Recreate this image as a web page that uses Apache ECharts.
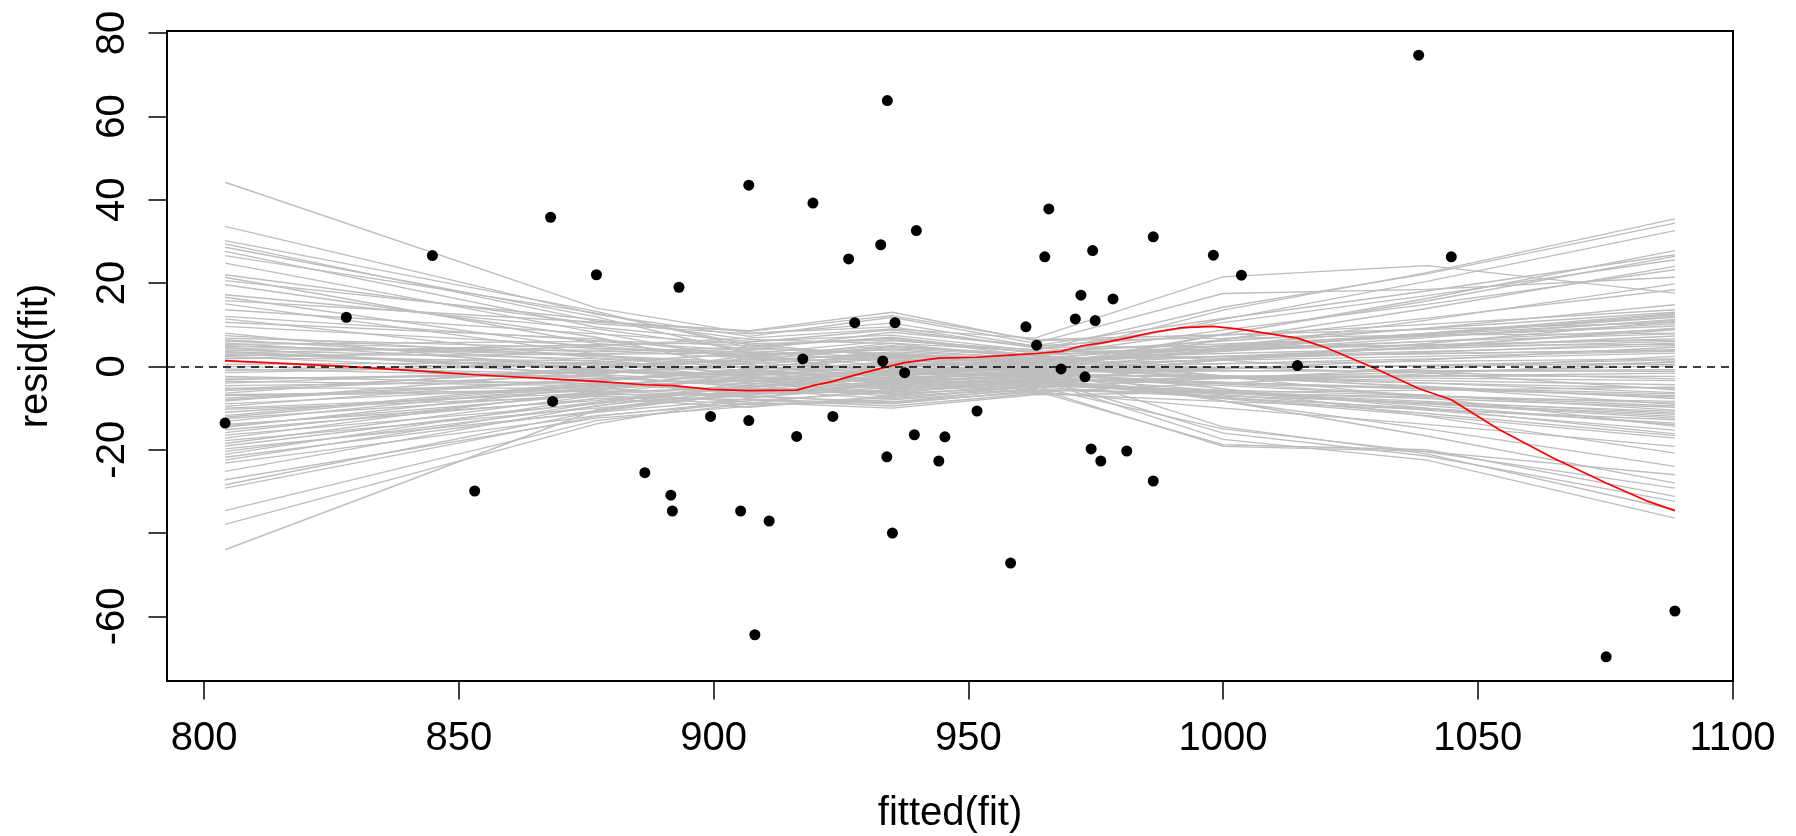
<!DOCTYPE html>
<html><head><meta charset="utf-8">
<script src="https://cdn.jsdelivr.net/npm/echarts@6/dist/echarts.min.js"></script>
<style>html,body{margin:0;padding:0;background:#fff}#c{width:1796px;height:836px}</style>
</head><body><div id="c"></div>
<script>
// ---- tick labels ----
const xTicks = [800, 850, 900, 950, 1000, 1050, 1100];
const yTicks = [-60, -40, -20, 0, 20, 40, 60, 80];
const yTickLabels = [-60, -20, 0, 20, 40, 60, 80];

// ---- observed residuals vs fitted ----
const fittedX = [804.1, 827.9, 844.8, 853.1, 868.0, 868.4, 877.0, 886.5, 891.6, 891.9, 893.2, 899.4, 905.3, 906.9, 906.9, 908.1, 910.9, 916.3, 917.5, 919.5, 923.4, 926.5, 927.7, 932.8, 933.2, 934.0, 934.1, 935.1, 935.6, 937.5, 939.4, 939.8, 944.2, 945.4, 951.7, 958.3, 961.3, 963.4, 965.0, 965.8, 968.2, 971.0, 972.1, 972.9, 974.1, 974.4, 974.9, 976.0, 978.4, 981.1, 986.3, 986.3, 998.1, 1003.6, 1014.6, 1038.4, 1044.8, 1075.2, 1088.7];
const residY = [-13.6, 11.8, 26.6, -29.9, 35.8, -8.4, 22.0, -25.5, -30.9, -34.7, 19.0, -12.0, -34.7, 43.5, -13.0, -64.4, -37.1, -16.8, 1.8, 39.2, -12.0, 25.8, 10.5, 29.2, 1.3, -21.7, 63.8, -40.0, 10.5, -1.5, -16.4, 32.6, -22.7, -16.9, -10.7, -47.2, 9.5, 5.1, 26.3, 37.8, -0.6, 11.4, 17.1, -2.5, -19.8, 27.8, 11.0, -22.7, 16.2, -20.3, 31.1, -27.5, 26.7, 21.9, 0.2, 74.7, 26.3, -69.7, -58.7];

// ---- red smooth of the observed residuals ----
const lowessX = [804.1, 827.9, 844.8, 853.1, 868.2, 877.0, 886.5, 892.0, 899.4, 906.9, 916.3, 919.5, 923.4, 927.7, 934.0, 937.5, 944.2, 951.7, 958.3, 963.4, 968.2, 972.1, 976.0, 981.1, 986.3, 992.0, 998.1, 1003.6, 1014.6, 1020.0, 1029.0, 1038.4, 1044.8, 1054.0, 1064.8, 1075.2, 1083.0, 1088.7];
const lowessY = [1.4, 0.0, -1.3, -2.0, -3.0, -3.6, -4.4, -4.6, -5.5, -5.8, -5.7, -4.6, -3.6, -2.1, -0.1, 0.9, 2.0, 2.2, 2.7, 3.1, 3.6, 4.9, 5.6, 6.8, 8.2, 9.3, 9.6, 8.9, 6.8, 4.6, 0.0, -5.3, -8.0, -15.0, -22.0, -28.0, -32.2, -34.6];

// ---- gray simulated smooths, values at these fitted positions ----
const simKnotsX = [804.1, 877, 907, 935, 963, 1000, 1040, 1088.7];
const simCurves = [
  [44.2, 14.0, 8.0, 9.5, 4.5, 1.5, -1.6, -5.6],
  [33.6, 12.5, 7.2, 11.8, 5.6, 17.5, 18.5, 21.4],
  [30.2, 13.2, 4.5, 3.0, 1.2, -5.4, -12.0, -20.8],
  [29.4, 10.8, 8.6, 13.0, 6.2, 6.8, 7.5, 8.0],
  [28.6, 11.9, 3.1, -2.0, -1.5, -4.2, -6.9, -10.5],
  [27.6, 9.4, 6.0, 7.5, 3.8, 14.2, 22.2, 34.4],
  [26.6, 12.8, 5.2, 2.5, 0.6, 1.5, 2.4, 3.6],
  [24.8, 8.1, 1.5, 4.8, 2.8, -2.4, -7.5, -14.4],
  [22.0, 10.2, 7.8, 10.4, 4.9, 7.5, 10.1, 13.6],
  [21.4, 5.5, 2.2, -1.2, -2.6, -16.0, -21.5, -32.4],
  [20.6, 11.2, 6.5, 5.5, 2.0, 4.9, 7.9, 11.8],
  [19.6, 7.0, -0.8, -3.5, -2.2, -2.3, -2.3, -2.4],
  [17.2, 9.0, 4.0, 8.2, 5.0, 11.5, 18.1, 26.8],
  [16.6, 4.2, 3.5, 1.0, -0.5, -2.7, -4.8, -7.7],
  [15.8, 10.6, 8.4, 12.2, 6.4, 7.6, 8.9, 10.5],
  [15.0, 3.0, -2.5, -4.0, -3.4, -7.4, -11.3, -16.6],
  [13.6, 7.8, 5.4, 6.4, 3.4, 4.2, 5.2, 6.3],
  [12.0, 6.2, 5.0, 6.8, 2.5, 8.7, 14.9, 23.2],
  [11.4, 2.0, 0.4, -2.8, -1.0, -0.4, 0.1, 0.9],
  [10.6, 6.6, 2.6, 0.2, -0.8, -1.0, -1.1, -1.2],
  [9.6, 5.0, 6.8, 9.0, 6.8, 21.5, 24.2, 17.6],
  [8.0, -1.0, -3.2, -5.5, -4.0, -6.4, -8.8, -12.0],
  [7.4, 2.4, 0.6, 2.6, 1.2, 3.6, 6.0, 9.0],
  [6.8, 4.4, 2.8, 4.0, 1.8, 3.1, 4.3, 6.0],
  [6.4, 1.2, -1.8, 0.5, 0.2, -8.3, -16.7, -28.0],
  [6.0, 3.5, 4.6, 7.0, 3.2, 6.1, 9.1, 13.0],
  [5.6, 0.2, -4.0, -6.5, -5.0, -2.8, -0.6, 2.4],
  [5.3, 6.0, 3.8, 2.0, 0.8, -2.2, -5.1, -9.1],
  [5.0, 2.6, 1.0, 3.5, 2.2, 11.3, 20.4, 32.6],
  [4.8, 3.0, 4.2, 3.0, 0.8, -0.3, -1.5, -3.0],
  [4.6, -2.2, -5.0, -3.0, -1.8, -2.6, -3.4, -4.4],
  [4.2, 3.9, 2.0, 5.6, 3.6, 5.4, 7.3, 9.7],
  [3.9, 1.8, -0.2, -1.5, -0.8, -5.4, -10.0, -16.2],
  [3.6, -0.5, 1.6, 2.8, 1.4, 6.5, 11.6, 18.4],
  [3.4, -0.8, -2.2, 0.2, 0.5, 4.0, 7.8, 12.0],
  [3.2, 5.2, 5.8, 8.8, 4.6, 4.8, 5.0, 5.3],
  [2.9, 0.6, -2.6, -4.8, -3.0, -4.2, -5.4, -7.0],
  [2.6, 2.9, 3.3, 1.5, 0.4, 3.7, 6.9, 11.3],
  [2.4, -1.6, 0.8, -0.6, -0.3, -14.5, -21.0, -34.4],
  [2.0, 1.4, -1.0, -3.2, -2.6, -4.6, -7.0, -9.5],
  [1.8, 4.8, 2.4, 4.5, 2.9, 4.0, 5.1, 6.6],
  [1.2, -3.0, -1.2, -2.2, -1.2, -1.1, -1.0, -0.8],
  [0.5, 1.0, 3.0, 6.2, 4.0, 10.5, 17.0, 25.6],
  [0.0, -1.8, 0.6, 2.4, 1.3, 2.4, 3.6, 5.0],
  [-0.6, -2.5, -4.6, -7.2, -5.5, -7.1, -8.7, -10.8],
  [-1.0, 0.8, -1.6, -4.0, -3.4, -6.2, -9.0, -12.4],
  [-1.5, 0.4, 1.2, 3.2, 1.6, 2.3, 3.0, 4.0],
  [-2.4, -4.2, -6.0, -3.8, -2.4, -5.9, -9.4, -14.0],
  [-2.8, -2.2, 2.6, 5.0, 2.8, 4.2, 6.0, 7.8],
  [-3.2, -1.4, 0.0, 1.8, 0.9, 5.1, 9.2, 14.8],
  [-3.6, -4.6, -3.4, -1.6, -0.6, -0.2, 0.2, 0.5],
  [-4.0, -0.8, -2.0, -0.4, -0.6, -2.3, -4.0, -6.3],
  [-4.6, -3.6, -1.0, 2.2, 1.9, 13.5, 22.5, 35.4],
  [-5.2, -5.2, -7.2, -8.5, -6.2, -4.0, -1.8, 1.2],
  [-5.5, -1.0, -2.4, -3.6, -2.2, -3.8, -5.4, -7.3],
  [-5.8, -2.0, -3.6, -1.8, -1.5, -8.3, -15.0, -24.0],
  [-6.4, -0.2, 1.8, 4.2, 2.6, 4.9, 7.2, 10.2],
  [-6.8, -5.6, -0.4, 2.6, 1.6, 2.4, 3.1, 3.8],
  [-7.0, -6.0, -5.4, -6.0, -4.4, -5.7, -7.0, -8.8],
  [-7.6, -3.2, -0.6, 0.8, 0.0, 1.7, 3.4, 5.6],
  [-8.0, -3.4, -1.2, 0.4, 1.2, 4.4, 7.6, 11.0],
  [-8.3, -1.2, -2.8, -5.2, -3.6, -7.7, -11.8, -17.2],
  [-9.0, -4.8, -1.5, 1.2, 0.6, 4.1, 7.7, 12.4],
  [-9.6, -2.8, -4.2, -2.6, -2.0, -2.4, -2.8, -3.4],
  [-10.0, -6.4, -4.8, -3.0, -1.6, -2.8, -4.0, -5.2],
  [-10.3, -7.2, -8.0, -9.5, -6.5, -8.4, -10.3, -12.8],
  [-11.0, -5.6, -3.0, -0.8, -0.9, 7.7, 16.3, 27.8],
  [-11.8, -3.8, -6.5, -4.4, -2.8, -3.9, -5.1, -6.6],
  [-12.2, -4.2, -3.0, -1.2, -0.2, 0.6, 1.2, 1.8],
  [-12.5, -6.6, -2.2, -1.0, -1.1, 1.9, 4.8, 8.8],
  [-13.2, -4.4, -5.6, -7.8, -4.8, -15.0, -20.5, -29.2],
  [-13.9, -8.2, -4.8, -2.0, -0.4, 0.7, 1.8, 3.2],
  [-14.2, -6.8, -6.6, -6.0, -4.0, -6.4, -9.0, -11.5],
  [-14.6, -5.0, -3.4, -6.8, -4.6, -6.2, -7.7, -9.8],
  [-15.2, -7.8, -6.2, -3.4, -1.2, 6.4, 13.9, 24.0],
  [-15.9, -6.2, -8.6, -10.0, -6.8, -6.3, -5.7, -5.0],
  [-16.5, -9.0, -3.8, -1.4, 0.3, 2.4, 4.5, 7.3],
  [-17.2, -5.8, -7.4, -5.0, -3.2, -6.8, -10.5, -15.3],
  [-17.8, -10.0, -6.8, -4.6, -2.4, 1.6, 5.5, 10.8],
  [-18.5, -7.0, -9.2, -8.0, -5.6, -6.4, -7.3, -8.4],
  [-19.1, -8.6, -5.0, -3.0, -1.6, -0.6, 0.3, 1.6],
  [-19.8, -11.0, -7.8, -9.0, -5.8, -18.8, -20.0, -31.2],
  [-20.4, -9.6, -4.4, -0.2, 1.0, 4.5, 8.0, 12.7],
  [-21.1, -7.6, -9.8, -7.0, -4.2, -6.3, -8.4, -11.2],
  [-21.8, -10.6, -6.0, -5.8, -2.8, -0.6, 1.6, 4.6],
  [-22.5, -8.8, -7.0, -8.8, -6.0, -10.0, -13.9, -19.2],
  [-23.2, -11.8, -8.8, -5.4, -3.8, -2.6, -1.4, 0.2],
  [-25.2, -9.4, -5.8, -2.4, -0.2, 7.8, 15.7, 26.4],
  [-27.2, -12.4, -9.6, -7.4, -4.9, -7.5, -10.1, -13.6],
  [-28.4, -10.8, -6.4, -4.2, -2.0, 4.5, 11.1, 19.8],
  [-29.2, -12.0, -8.2, -6.2, -3.4, -2.9, -2.3, -1.6],
  [-34.6, -13.0, -9.0, -8.6, -5.2, -19.2, -20.4, -26.0],
  [-37.9, -13.8, -7.6, -3.8, -1.9, 1.5, 4.8, 9.2],
  [-44.0, -10.4, -5.2, -6.6, -3.0, -17.5, -22.5, -36.4]
];

const FONT = '"Liberation Sans", Arial, Helvetica, sans-serif';
const chart = echarts.init(document.getElementById('c'), null, {renderer: 'canvas'});

const series = [];
simCurves.forEach((c, i) => {
  series.push({
    type: 'line', name: 'sim' + i, silent: true, symbol: 'none', smooth: false,
    data: simKnotsX.map((x, k) => [x, c[k]]),
    lineStyle: {color: '#BEBEBE', width: 1.4, opacity: 1}, z: 1, animation: false
  });
});
series.push({
  type: 'line', name: 'zero', silent: true, symbol: 'none', data: [],
  markLine: {silent: true, symbol: ['none', 'none'], label: {show: false},
    lineStyle: {color: '#000', width: 1.6, type: [8, 6], opacity: 1},
    emphasis: {disabled: true},
    data: [{yAxis: 0}], animation: false},
  z: 2
});
series.push({
  type: 'line', name: 'lowess', silent: true, symbol: 'none', smooth: false,
  data: lowessX.map((x, k) => [x, lowessY[k]]),
  lineStyle: {color: '#FF0000', width: 1.7, opacity: 1}, z: 3, animation: false
});
series.push({
  type: 'scatter', name: 'resid', silent: true, symbol: 'circle', symbolSize: 11,
  data: fittedX.map((x, k) => [x, residY[k]]),
  itemStyle: {color: '#000', opacity: 1}, z: 4, animation: false
});

chart.setOption({
  animation: false,
  backgroundColor: '#fff',
  grid: {left: 167, right: 63, top: 31, bottom: 155, show: true,
    borderColor: '#000', borderWidth: 2, backgroundColor: 'transparent',
    containLabel: false, outerBoundsMode: 'none'},
  xAxis: {
    type: 'value', min: 792.7, max: 1100.1,
    splitLine: {show: false},
    axisLine: {show: false, onZero: false},
    axisTick: {show: true, inside: false, length: 18.5, customValues: xTicks,
      lineStyle: {color: '#000', width: 1.5}},
    axisLabel: {show: true, customValues: xTicks, margin: 38, color: '#000',
      fontSize: 40, fontFamily: FONT, formatter: v => String(v)}
  },
  yAxis: {
    type: 'value', min: -75.5, max: 80.5,
    splitLine: {show: false},
    axisLine: {show: false, onZero: false},
    axisTick: {show: true, inside: false, length: 18.5, customValues: yTicks,
      lineStyle: {color: '#000', width: 1.5}},
    axisLabel: {show: true, customValues: yTickLabels, margin: 34, rotate: 90,
      color: '#000', fontSize: 40, fontFamily: FONT, formatter: v => String(v)}
  },
  graphic: [
    {type: 'text', x: 950, y: 813.6, silent: true,
      style: {text: 'fitted(fit)', fill: '#000', fontSize: 40, fontFamily: FONT,
        align: 'center', verticalAlign: 'middle'}},
    {type: 'text', x: 36.1, y: 356, rotation: Math.PI / 2, silent: true,
      style: {text: 'resid(fit)', fill: '#000', fontSize: 40, fontFamily: FONT,
        align: 'center', verticalAlign: 'middle'}}
  ],
  series: series
});
</script>
</body></html>
